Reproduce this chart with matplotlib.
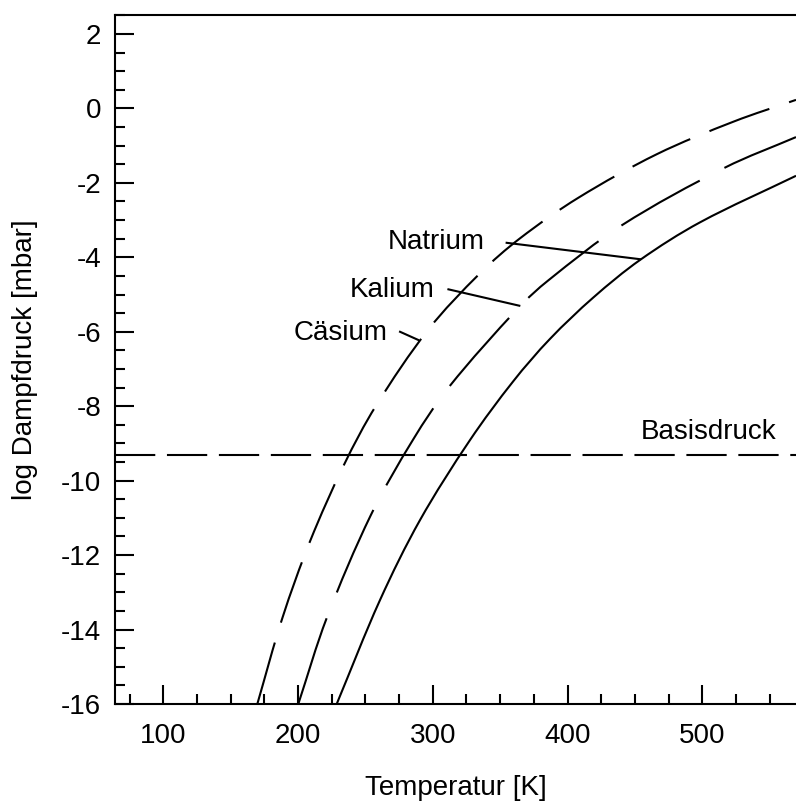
import matplotlib
matplotlib.use("Agg")
import numpy as np
import matplotlib.pyplot as plt
from matplotlib.ticker import MultipleLocator, FixedLocator
from matplotlib.path import Path
from matplotlib.patches import PathPatch

plt.rcParams['font.family'] = ['Liberation Sans', 'DejaVu Sans']
plt.rcParams['lines.scale_dashes'] = False
plt.rcParams['axes.unicode_minus'] = False

# ---- data ----
cs_T = [169.8, 188.3, 208.9, 234.3, 257.8, 296.7, 335.0, 364.7, 408.0, 466.2, 523.5, 569.5]
cs_p = [-16.0, -13.70, -11.63, -9.56, -7.99, -5.94, -4.43, -3.49, -2.40, -1.23, -0.35, 0.23]

k_T = [200.2, 221.3, 254.1, 285.5, 312.3, 363.5, 385.7, 440.2, 516.8, 569.5]
k_p = [-16.0, -13.69, -10.92, -8.89, -7.47, -5.36, -4.62, -3.14, -1.59, -0.77]

na_T = [228.7, 260.8, 290.5, 327.6, 359.7, 387.0, 419.1, 453.8, 498.3, 569.5]
na_p = [-16.0, -13.21, -11.06, -8.91, -7.33, -6.19, -5.08, -4.07, -3.06, -1.81]

basisdruck = -9.3

labels = ["Natrium", "Kalium", "Cäsium", "Basisdruck"]
label_T = [302.4, 270.1, 231.6, 504.3]
label_p = [-3.58, -4.88, -6.04, -8.68]

leader_T = [(354.8, 453.7), (311.6, 364.2), (275.7, 289.2)]
leader_p = [(-3.61, -4.05), (-4.86, -5.30), (-6.0, -6.22)]

x_major = [100, 200, 300, 400, 500]
y_major = list(range(-16, 3, 2))


def smooth_path(xs, ys, sx=1.3475, sy=37.2):
    """Catmull-Rom style cubic Bezier path through the read points."""
    P = np.column_stack([xs, ys]).astype(float)
    Q = P * [sx, sy]
    d = np.sqrt(((Q[1:] - Q[:-1]) ** 2).sum(axis=1))
    t = np.concatenate([[0], np.cumsum(d)])
    n = len(P)
    M = np.zeros_like(P)
    for i in range(n):
        if i == 0:
            M[i] = (P[1] - P[0]) / (t[1] - t[0])
        elif i == n - 1:
            M[i] = (P[-1] - P[-2]) / (t[-1] - t[-2])
        else:
            M[i] = (P[i + 1] - P[i - 1]) / (t[i + 1] - t[i - 1])
    verts = [P[0]]
    codes = [Path.MOVETO]
    for i in range(n - 1):
        h = t[i + 1] - t[i]
        verts += [P[i] + M[i] * h / 3, P[i + 1] - M[i + 1] * h / 3, P[i + 1]]
        codes += [Path.CURVE4] * 3
    return Path(np.array(verts), codes)


# ---- figure ----
W, H = 796, 801
fig = plt.figure(figsize=(W / 100, H / 100), dpi=100)
ax = fig.add_axes([115 / W, 1 - 704 / H, (W - 115) / W, (704 - 15) / H])

lw = 1.5
series = [(na_T, na_p, 'solid'), (k_T, k_p, (0, (65, 20))), (cs_T, cs_p, (0, (46, 15)))]
for xs, ys, ls in series:
    ax.add_patch(PathPatch(smooth_path(xs, ys), fill=False, edgecolor='black', lw=lw,
                           linestyle=ls, capstyle='butt'))

ax.axhline(basisdruck, color='black', lw=lw, linestyle=(0, (29, 8.4)), dash_capstyle='butt')

for (t0, t1), (p0, p1) in zip(leader_T, leader_p):
    ax.plot([t0, t1], [p0, p1], color='black', lw=lw)

for s, t, p in zip(labels, label_T, label_p):
    ax.text(t, p, s, ha='center', va='center', fontsize=20)

ax.set_xlim(64.2, 569.5)
ax.set_ylim(-16, 2.51)

ax.xaxis.set_major_locator(FixedLocator(x_major))
ax.xaxis.set_minor_locator(MultipleLocator(25))
ax.yaxis.set_major_locator(FixedLocator(y_major))
ax.yaxis.set_minor_locator(MultipleLocator(0.5))

ax.tick_params(axis='both', which='both', direction='in', width=1.5, colors='black',
               top=False, right=False)
ax.tick_params(axis='both', which='major', length=13.5, labelsize=20)
ax.tick_params(axis='both', which='minor', length=7)
ax.tick_params(axis='x', which='major', pad=14)
ax.tick_params(axis='y', which='major', pad=10)

ax.spines['right'].set_visible(False)
for sp in ['left', 'bottom', 'top']:
    ax.spines[sp].set_linewidth(1.5)

fig.text((115 + W) / 2 / W, 1 - 795 / H, "Temperatur [K]", ha='center', va='baseline', fontsize=20)
fig.text(25 / W, 1 - 360 / H, "log Dampfdruck [mbar]", ha='center', va='center',
         rotation=90, fontsize=20)

fig.savefig("out.png", dpi=100)
